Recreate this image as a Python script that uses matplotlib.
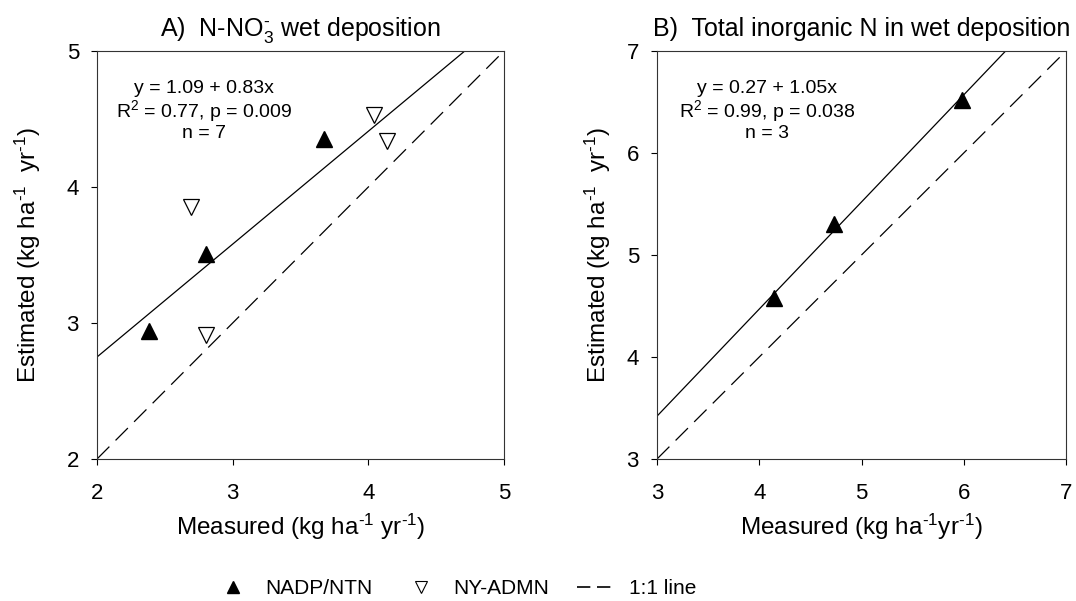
import numpy as np
import matplotlib.pyplot as plt
from matplotlib.lines import Line2D

plt.rcParams['font.family'] = ['Liberation Sans', 'DejaVu Sans']
plt.rcParams['mathtext.fontset'] = 'custom'
plt.rcParams['mathtext.rm'] = 'Liberation Sans'
plt.rcParams['mathtext.it'] = 'Liberation Sans:italic'

# panel A: N-NO3 wet deposition
nadp_a_x = [2.38, 2.80, 3.67]
nadp_a_y = [2.94, 3.51, 4.35]
ny_a_x = [2.69, 2.80, 4.04, 4.14]
ny_a_y = [3.85, 2.91, 4.53, 4.34]
fit_a = (1.09, 0.83)

# panel B: total inorganic N
nadp_b_x = [4.14, 4.73, 5.98]
nadp_b_y = [4.58, 5.30, 6.52]
fit_b = (0.27, 1.05)

fig = plt.figure(figsize=(10.76, 6.01), dpi=100)
axA = fig.add_axes([97/1076, 142/601, 407/1076, 408/601])
axB = fig.add_axes([657/1076, 142/601, 409/1076, 408/601])

dash = (0, (14, 7))
sup = '$^{\\text{-}1}$'


def style(ax, lo, hi, fit):
    ax.set_xlim(lo, hi)
    ax.set_ylim(lo, hi)
    ticks = np.arange(lo, hi + 1)
    ax.set_xticks(ticks)
    ax.set_yticks(ticks)
    ax.tick_params(direction='out', length=4, width=0.8, labelsize=16)
    ax.tick_params(axis='x', pad=13)
    ax.tick_params(axis='y', pad=9)
    for s in ax.spines.values():
        s.set_linewidth(0.8)
        s.set_color('#333333')
    # 1:1 line
    ax.plot([lo, hi], [lo, hi], color='black', lw=0.9, linestyle=dash)
    # fit line
    xx = np.array([lo, hi])
    ax.plot(xx, fit[0] + fit[1] * xx, color='black', lw=0.9)


style(axA, 2, 5, fit_a)
axA.plot(nadp_a_x, nadp_a_y, '^', color='black', ms=11.5, ls='none')
axA.plot(ny_a_x, ny_a_y, 'v', mfc='white', mec='black', mew=0.9, ms=11.5, ls='none')
axA.text(2.79, 4.56, 'y = 1.09 + 0.83x\nR$^2$ = 0.77, p = 0.009\nn = 7',
         ha='center', va='center', fontsize=14, linespacing=1.05)
axA.set_title('A)  N-NO$_3^{\\text{-}}$ wet deposition', fontsize=18, pad=11)
axA.set_xlabel('Measured (kg ha' + sup + ' yr' + sup + ')', fontsize=17.5, labelpad=6)
axA.set_ylabel('Estimated (kg ha' + sup + '  yr' + sup + ')', fontsize=17.5, labelpad=17)

style(axB, 3, 7, fit_b)
axB.plot(nadp_b_x, nadp_b_y, '^', color='black', ms=11.5, ls='none')
axB.text(4.08, 6.41, 'y = 0.27 + 1.05x\nR$^2$ = 0.99, p = 0.038\nn = 3',
         ha='center', va='center', fontsize=14, linespacing=1.05)
axB.set_title('B)  Total inorganic N in wet deposition', fontsize=18, pad=11)
axB.set_xlabel('Measured (kg ha' + sup + 'yr' + sup + ')', fontsize=17.5, labelpad=6)
axB.set_ylabel('Estimated (kg ha' + sup + '  yr' + sup + ')', fontsize=17.5, labelpad=10)

handles = [
    Line2D([], [], marker='^', color='black', ls='none', ms=9),
    Line2D([], [], marker='v', mfc='white', mec='black', mew=0.8, ls='none', ms=9),
    Line2D([], [], color='black', lw=1.2, linestyle=(0, (8, 4))),
]
fig.legend(handles, ['NADP/NTN', 'NY-ADMN', '1:1 line'], loc='center',
           bbox_to_anchor=(455/1076, 1 - 589/601), ncol=3, frameon=False,
           fontsize=15, handlelength=1.9, handletextpad=0.6, columnspacing=1.35)

fig.savefig('out.png', dpi=100)
